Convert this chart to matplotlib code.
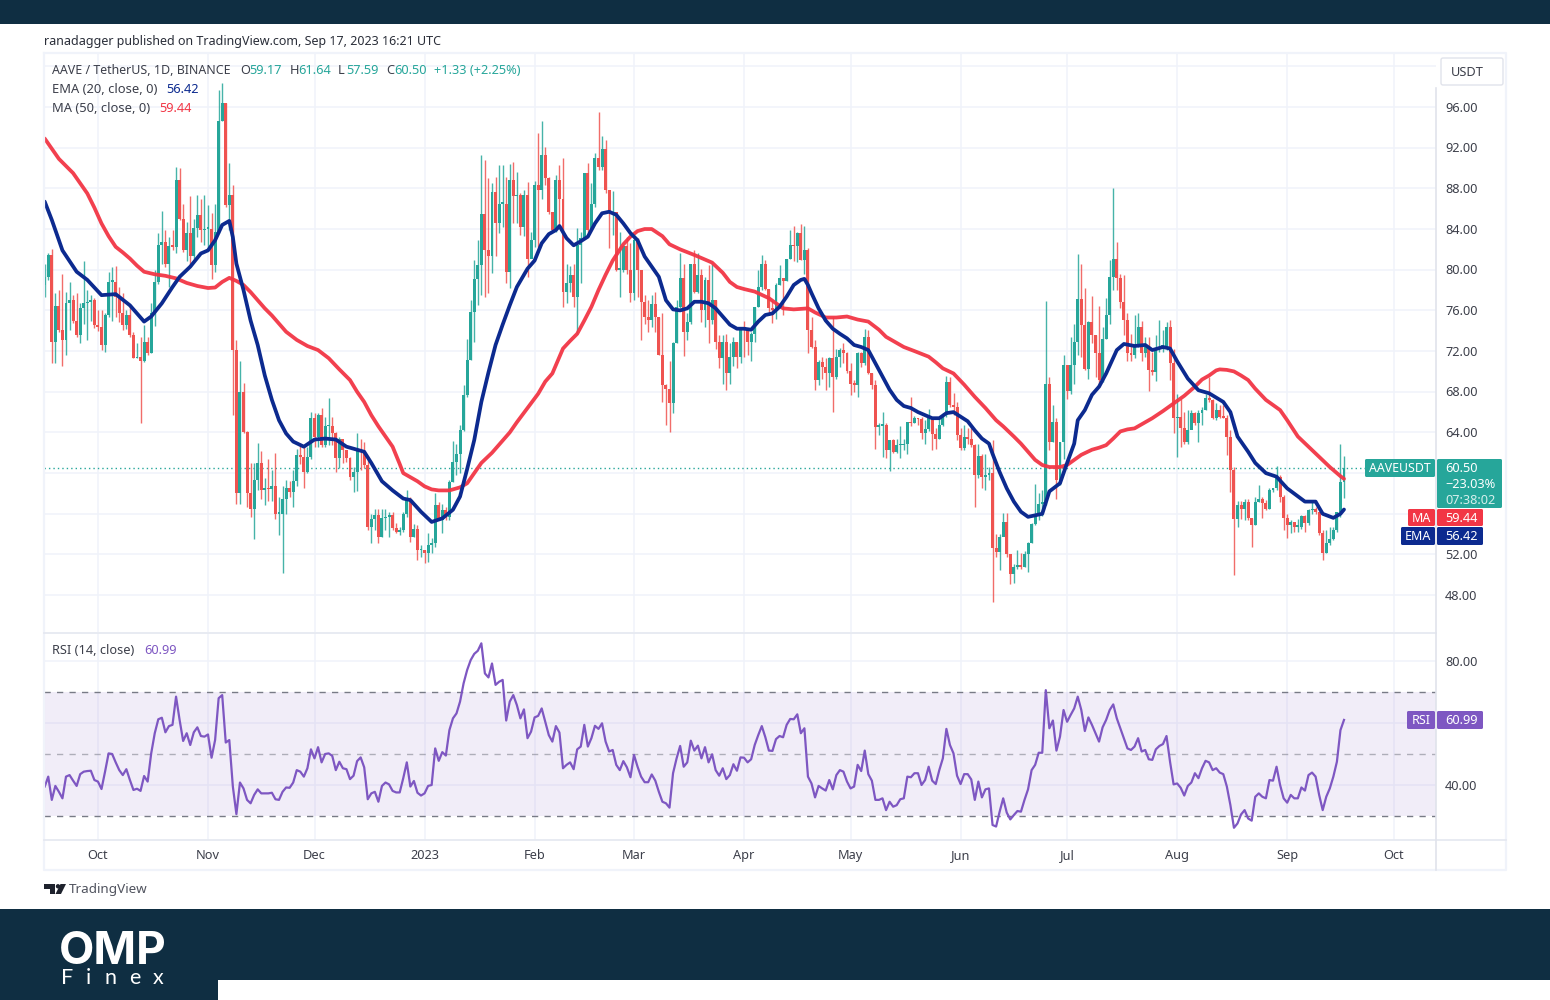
import numpy as np
import pandas as pd
import matplotlib
matplotlib.use('Agg')
import matplotlib.pyplot as plt
from matplotlib.patches import Rectangle, FancyBboxPatch, Polygon, Circle

plt.rcParams['font.family'] = ['Noto Sans', 'DejaVu Sans']

# daily candles, 2022-09-16 to 2023-09-17
start_date = '2022-09-16'
first_open = 78.5
closes = [
    79.3, 81.4, 72.9, 76.4, 74.1, 73.1, 76.7, 77.0, 75.0, 73.6, 76.2, 76.7, 76.85, 77.0, 74.55,
    74.4, 72.6, 75.5, 78.8, 78.8, 77.3, 75.7, 74.55, 75.5, 73.6, 71.3, 71.45, 71.0, 72.9, 71.8,
    75.7, 78.8, 82.4, 82.7, 80.6, 82.3, 82.25, 88.8, 85.0, 81.9, 83.6, 81.3, 84.1, 85.4, 83.9,
    84.05, 84.05, 80.45, 83.7, 94.6, 96.35, 86.35, 87.3, 72.1, 58.0, 68.0, 64.07, 58.0, 56.5, 59.3,
    61.0, 58.3, 58.5, 58.4, 58.7, 56.0, 56.0, 57.5, 58.5, 58.1, 59.2, 61.8, 61.6, 60.1, 61.6,
    65.4, 63.6, 65.7, 62.75, 64.6, 64.6, 63.9, 61.45, 63.4, 62.3, 61.45, 59.65, 60.1, 62.4, 62.1,
    60.8, 54.7, 55.5, 55.9, 53.75, 55.55, 55.7, 55.9, 54.6, 54.2, 54.4, 56.0, 57.5, 53.75, 54.55,
    52.4, 52.4, 52.1, 52.9, 53.1, 56.85, 55.4, 56.4, 55.7, 59.15, 61.05, 61.9, 64.2, 67.7, 71.1,
    75.87, 79.1, 80.45, 85.5, 81.9, 81.3, 87.6, 84.55, 86.5, 86.5, 79.8, 88.8, 87.2, 87.3, 84.2,
    87.35, 81.1, 82.9, 88.3, 87.8, 91.3, 89.0, 85.7, 83.9, 88.8, 87.0, 77.8, 78.7, 79.5, 77.35,
    82.4, 83.1, 89.5, 83.9, 86.5, 90.95, 90.1, 91.9, 87.8, 85.55, 85.7, 80.0, 80.0, 82.3, 80.0,
    77.7, 82.9, 80.0, 76.85, 75.4, 75.05, 76.6, 75.4, 71.6, 68.7, 68.3, 66.85, 72.75, 76.35, 79.15,
    73.9, 74.9, 80.6, 77.85, 79.5, 76.0, 79.0, 75.1, 77.0, 72.9, 71.3, 72.9, 69.8, 71.45, 72.9,
    71.45, 74.4, 74.2, 72.9, 73.7, 76.35, 78.3, 80.6, 78.15, 76.2, 76.0, 78.5, 79.15, 78.9, 81.1,
    82.4, 82.3, 83.6, 81.0, 81.9, 74.1, 72.4, 69.15, 70.95, 70.45, 69.8, 71.3, 69.5, 71.45, 72.1,
    71.8, 70.0, 68.8, 68.7, 71.8, 70.8, 73.4, 69.8, 68.65, 64.55, 64.65, 64.7, 62.3, 63.25, 62.1,
    62.75, 62.75, 62.9, 65.0, 64.9, 65.4, 65.3, 63.9, 64.3, 65.55, 63.85, 63.4, 64.7, 65.7, 69.0,
    66.7, 66.5, 63.75, 62.5, 63.6, 63.4, 62.75, 59.8, 61.7, 59.65, 59.8, 60.0, 52.6, 52.2, 53.75,
    55.15, 52.05, 50.05, 50.75, 51.0, 50.8, 52.0, 53.15, 55.0, 56.0, 57.0, 57.2, 68.75, 63.1, 65.05,
    59.3, 63.1, 70.6, 68.1, 70.6, 72.9, 77.1, 74.56, 70.2, 74.9, 73.6, 71.8, 69.15, 73.2, 75.5,
    79.25, 81.1, 79.15, 76.85, 75.1, 71.8, 71.6, 72.6, 74.4, 71.8, 72.4, 70.1, 69.9, 72.25, 72.4,
    72.5, 74.4, 70.85, 65.4, 65.5, 64.4, 63.1, 64.2, 65.9, 64.9, 65.9, 66.2, 67.35, 67.2, 65.4,
    66.2, 65.5, 65.45, 63.55, 60.3, 55.45, 56.85, 56.5, 57.15, 55.55, 54.9, 57.15, 57.5, 57.1, 56.5,
    58.3, 58.5, 59.6, 57.7, 55.55, 54.9, 55.2, 54.7, 54.7, 55.8, 55.05, 56.35, 56.5, 56.2, 54.1,
    52.1, 53.1, 53.55, 54.4, 56.2, 59.15, 60.5,
]
highs = [
    80.6, 81.6, 82.0, 77.7, 78.0, 79.6, 77.8, 78.8, 77.5, 77.7, 76.7, 80.9, 78.0, 77.5, 77.2,
    76.0, 76.0, 75.7, 79.8, 80.3, 80.4, 78.3, 77.7, 76.0, 76.4, 73.9, 72.8, 73.4, 74.6, 73.4,
    76.7, 80.0, 83.6, 85.8, 83.9, 83.2, 83.9, 90.1, 90.0, 86.5, 84.7, 87.2, 85.0, 87.3, 87.0,
    87.3, 86.4, 85.6, 86.5, 97.7, 98.4, 96.35, 90.5, 88.3, 73.1, 71.0, 68.9, 64.1, 61.0, 61.0,
    63.0, 62.2, 59.5, 61.4, 60.3, 62.0, 57.7, 58.7, 59.3, 59.2, 60.3, 62.4, 62.8, 62.6, 62.6,
    66.0, 65.9, 65.9, 66.4, 65.5, 67.35, 65.5, 64.0, 63.6, 62.8, 62.1, 61.6, 60.6, 63.9, 63.4,
    63.1, 61.4, 56.0, 56.5, 56.5, 56.5, 56.5, 56.2, 56.2, 55.05, 54.7, 56.2, 58.3, 57.7, 55.0,
    54.9, 52.9, 52.4, 54.1, 53.6, 58.0, 57.2, 57.0, 56.7, 59.3, 63.15, 62.9, 64.7, 68.7, 73.15,
    77.0, 81.0, 82.9, 91.3, 90.8, 89.0, 88.5, 89.1, 90.3, 90.3, 89.1, 90.4, 90.6, 89.6, 87.5,
    87.8, 88.6, 83.7, 88.7, 93.4, 94.6, 92.1, 89.1, 85.6, 89.3, 90.3, 91.0, 80.6, 80.4, 80.6,
    84.1, 83.7, 89.5, 90.5, 88.5, 91.45, 95.5, 93.15, 92.8, 87.8, 87.7, 85.7, 83.7, 82.4, 83.25,
    82.6, 83.1, 83.1, 80.0, 77.5, 77.0, 77.5, 77.8, 75.4, 75.7, 68.8, 71.0, 72.9, 77.0, 81.6,
    80.6, 75.7, 80.6, 81.9, 81.6, 80.1, 79.3, 80.5, 80.6, 77.0, 73.6, 73.6, 73.7, 72.75, 73.4,
    72.9, 74.4, 75.0, 74.2, 73.9, 76.35, 80.0, 81.45, 80.95, 78.15, 77.0, 78.65, 80.5, 79.0, 81.1,
    83.9, 84.3, 83.7, 84.5, 84.3, 82.1, 75.4, 73.1, 71.1, 71.4, 71.3, 71.45, 75.4, 72.2, 72.3,
    72.75, 71.9, 70.8, 69.15, 71.9, 71.9, 74.2, 74.1, 69.8, 69.2, 64.9, 66.0, 64.9, 63.3, 63.4,
    63.4, 64.65, 63.4, 65.05, 67.45, 65.6, 65.45, 65.5, 65.2, 66.3, 65.55, 64.4, 65.4, 65.9, 69.55,
    69.5, 67.9, 67.0, 64.4, 64.7, 64.4, 64.4, 62.9, 62.9, 61.9, 61.9, 60.6, 63.25, 54.05, 54.05,
    56.1, 56.1, 52.05, 51.1, 52.4, 52.1, 52.3, 53.25, 55.05, 58.9, 58.0, 58.3, 76.95, 69.5, 66.7,
    65.4, 63.1, 71.6, 70.6, 73.4, 74.7, 81.5, 80.6, 78.2, 75.0, 77.4, 73.6, 76.4, 74.4, 77.2,
    81.0, 88.0, 82.75, 79.6, 79.5, 75.7, 73.7, 75.5, 75.7, 75.0, 73.4, 73.4, 71.9, 73.6, 75.1,
    74.1, 74.9, 75.1, 72.2, 67.8, 67.3, 66.0, 66.2, 66.2, 66.0, 66.2, 66.5, 67.8, 69.5, 67.3,
    66.85, 66.7, 66.7, 65.7, 64.2, 60.6, 57.3, 57.3, 57.5, 57.5, 55.6, 57.7, 58.8, 57.7, 57.35,
    58.5, 58.5, 60.7, 59.8, 57.8, 56.0, 55.4, 55.2, 55.5, 55.85, 55.85, 56.5, 57.4, 56.7, 56.2,
    54.4, 54.4, 54.7, 54.7, 56.2, 62.85, 61.64,
]
lows = [
    77.3, 79.0, 70.8, 70.8, 73.9, 70.5, 71.6, 74.1, 74.8, 73.4, 72.8, 74.7, 73.1, 75.0, 74.3,
    74.0, 72.1, 71.9, 75.4, 75.0, 75.4, 74.9, 74.1, 74.2, 73.4, 71.3, 71.3, 64.9, 70.9, 71.6,
    71.8, 74.5, 78.6, 80.6, 80.3, 78.3, 81.9, 81.6, 84.9, 81.7, 80.9, 80.6, 81.1, 83.2, 82.7,
    82.4, 81.9, 79.1, 79.8, 83.6, 94.6, 86.2, 83.9, 65.7, 56.95, 57.0, 63.9, 56.7, 55.7, 53.5,
    58.3, 57.5, 56.9, 57.3, 57.3, 55.5, 53.9, 50.2, 56.0, 57.7, 56.7, 58.7, 60.9, 58.5, 60.0,
    61.4, 62.6, 62.6, 62.6, 62.6, 62.8, 62.8, 60.1, 60.5, 61.0, 61.1, 59.3, 58.1, 58.2, 60.3,
    60.5, 54.4, 53.15, 54.4, 53.1, 53.7, 54.4, 53.7, 54.4, 54.1, 53.9, 54.2, 55.7, 53.2, 53.7,
    51.45, 51.8, 51.2, 51.3, 52.1, 52.75, 55.4, 54.1, 55.4, 55.4, 59.15, 59.8, 60.0, 64.1, 67.5,
    71.1, 72.9, 76.5, 77.5, 77.3, 77.7, 79.7, 81.3, 83.6, 84.2, 78.7, 78.2, 84.6, 84.6, 83.4,
    83.3, 79.3, 81.3, 82.2, 82.2, 87.0, 88.3, 85.5, 83.7, 83.7, 84.1, 76.3, 76.7, 77.8, 76.3,
    73.7, 78.7, 83.7, 83.6, 83.9, 86.2, 89.8, 89.8, 87.5, 82.1, 83.4, 79.9, 77.3, 79.8, 79.6,
    76.85, 77.0, 77.35, 73.1, 74.7, 73.9, 74.4, 73.9, 71.6, 67.0, 64.7, 64.0, 65.9, 72.75, 76.2,
    71.5, 73.1, 74.7, 77.7, 77.7, 74.9, 74.4, 72.75, 74.7, 72.2, 70.3, 68.8, 68.2, 68.8, 70.5,
    70.3, 70.8, 71.4, 71.6, 71.0, 72.9, 76.35, 78.0, 78.0, 75.7, 74.8, 75.2, 78.5, 75.5, 78.9,
    81.1, 80.9, 80.8, 80.95, 79.6, 71.8, 72.3, 68.2, 68.7, 69.3, 68.2, 68.5, 66.0, 69.3, 70.45,
    70.8, 69.8, 67.7, 68.0, 67.5, 70.45, 70.6, 69.7, 68.3, 62.4, 63.7, 61.6, 61.45, 60.2, 62.0,
    62.0, 61.45, 62.3, 61.9, 64.6, 64.9, 64.7, 63.35, 62.9, 64.1, 62.3, 62.4, 63.4, 64.6, 65.55,
    66.5, 65.7, 63.25, 62.3, 62.3, 62.9, 62.6, 56.7, 59.5, 58.5, 58.3, 59.3, 47.35, 51.8, 50.5,
    53.8, 51.8, 49.05, 49.15, 50.6, 50.6, 50.8, 50.3, 53.1, 54.9, 55.4, 55.8, 56.85, 62.3, 63.1,
    57.5, 58.8, 61.4, 67.3, 67.8, 68.8, 71.6, 71.4, 70.1, 69.3, 72.75, 69.5, 68.8, 69.0, 73.2,
    74.7, 78.0, 78.0, 76.2, 73.6, 71.0, 71.0, 71.3, 72.4, 71.0, 71.4, 68.1, 69.6, 69.1, 71.9,
    71.9, 72.1, 69.15, 63.9, 61.6, 62.6, 62.9, 62.9, 64.4, 64.7, 63.1, 64.7, 66.2, 67.0, 65.3,
    65.2, 65.4, 65.4, 61.8, 58.15, 50.0, 54.7, 55.45, 55.4, 55.4, 52.75, 54.9, 57.15, 55.55, 56.35,
    56.5, 58.15, 58.3, 57.2, 54.4, 53.6, 54.1, 54.2, 54.2, 54.55, 54.2, 54.9, 56.0, 56.0, 53.9,
    51.45, 52.1, 52.9, 53.4, 54.2, 55.7, 57.59,
]

# moving averages, read every few days
ema_days = [0, 2, 5, 9, 12, 16, 20, 24, 28, 30, 33, 36, 38, 41, 44, 46, 48, 50, 52, 53, 54, 56, 58, 60,
            62, 64, 66, 68, 70, 73, 76, 79, 82, 85, 88, 90, 92, 95, 98, 101, 103, 106, 109, 112, 115,
            117, 119, 121, 123, 125, 127, 129, 131, 133, 136, 138, 140, 142, 144, 145, 147, 149, 151,
            153, 155, 157, 159, 161, 163, 165, 167, 169, 171, 173, 175, 177, 179, 181, 183, 185, 187,
            189, 191, 193, 195, 197, 199, 201, 203, 205, 207, 209, 211, 213, 214, 215, 216, 218, 220,
            222, 224, 226, 228, 230, 232, 234, 236, 238, 240, 242, 244, 246, 248, 250, 252, 254, 256,
            258, 260, 262, 264, 266, 267, 269, 271, 273, 275, 277, 279, 281, 283, 286, 288, 290, 291,
            293, 295, 297, 299, 302, 304, 307, 310, 312, 315, 317, 319, 322, 325, 328, 332, 334, 336,
            339, 341, 344, 347, 350, 355, 358, 360, 363, 365, 366]
ema_values = [86.7, 84.9, 81.9, 79.8, 79.0, 77.5, 77.6, 76.5, 74.9, 75.4, 76.7, 78.3, 79.3, 80.3, 81.6, 81.9,
              82.9, 84.4, 84.8, 83.2, 80.6, 78.0, 75.0, 72.6, 69.6, 67.2, 65.2, 63.9, 63.1, 62.6, 63.3,
              63.4, 63.3, 62.6, 62.3, 62.1, 61.0, 59.2, 58.3, 57.5, 57.35, 56.2, 55.2, 55.55, 56.4,
              57.7, 60.4, 63.25, 67.0, 69.9, 72.6, 74.6, 76.5, 78.3, 80.1, 80.9, 82.6, 83.5, 83.9, 84.3,
              83.1, 82.4, 82.8, 83.25, 84.55, 85.55, 85.7, 85.4, 84.55, 83.6, 82.9, 81.3, 80.3, 79.3,
              77.0, 76.1, 76.0, 76.2, 76.85, 76.85, 76.7, 76.2, 75.4, 74.6, 74.2, 74.2, 74.1, 74.9, 75.55,
              75.7, 76.35, 77.35, 78.5, 79.0, 79.1, 78.5, 77.7, 76.2, 75.0, 74.2, 73.7, 73.25, 72.6, 72.4,
              72.1, 70.8, 69.5, 68.2, 67.2, 66.6, 66.4, 66.0, 65.7, 65.4, 65.4, 65.9, 66.0, 65.55, 65.1,
              64.2, 63.4, 62.9, 61.9, 60.1, 58.5, 57.2, 56.2, 55.7, 55.85, 56.0, 58.2, 59.0, 61.0, 62.9,
              65.2, 66.2, 67.7, 68.5, 69.8, 72.1, 72.7, 72.5, 72.6, 72.1, 72.4, 72.25, 71.0, 69.3, 68.15,
              67.85, 67.0, 66.0, 63.6, 62.1, 61.0, 60.0, 59.65, 58.5, 57.2, 57.2, 56.0, 55.6, 56.0, 56.42]
ma_days = [0, 2, 4, 6, 8, 10, 12, 14, 16, 18, 20, 22, 24, 26, 28, 31, 34, 37, 40, 43, 46, 48, 50, 52, 54, 56, 58, 60,
           62, 64, 66, 68, 71, 74, 77, 80, 83, 86, 88, 90, 92, 94, 96, 98, 100, 101, 103, 105, 107, 109, 111, 114,
           117, 119, 121, 123, 126, 128, 131, 133, 136, 139, 141, 143, 146, 148, 150, 152, 154, 156, 158, 160, 163,
           165, 167, 169, 171, 174, 176, 179, 183, 186, 188, 191, 193, 195, 197, 200, 204, 206, 208, 211, 215, 217,
           220, 223, 226, 229, 232, 235, 237, 240, 242, 245, 249, 251, 253, 256, 259, 262, 265, 268, 270, 273, 275,
           277, 279, 281, 283, 286, 288, 290, 292, 295, 297, 299, 301, 303, 305, 307, 310, 312, 315, 318, 321, 324,
           326, 328, 330, 331, 333, 335, 337, 339, 341, 344, 346, 348, 350, 353, 356, 359, 362, 365, 366]
ma_values = [92.9, 91.9, 90.9, 90.2, 89.5, 88.5, 87.5, 86.1, 84.55, 83.3, 82.25, 81.7, 81.1, 80.4, 79.8, 79.55, 79.4,
             79.15, 78.7, 78.4, 78.2, 78.25, 78.8, 79.2, 78.9, 78.5, 77.8, 77.0, 76.2, 75.5, 74.7, 73.9, 73.1, 72.5,
             72.1, 71.3, 70.2, 69.15, 68.0, 67.0, 65.7, 64.6, 63.6, 62.6, 60.9, 60.0, 59.6, 59.2, 58.7, 58.4, 58.3,
             58.3, 58.6, 59.0, 60.0, 61.0, 62.0, 62.8, 64.0, 65.0, 66.4, 67.8, 69.0, 69.8, 72.25, 73.0, 73.7, 75.0,
             76.35, 78.0, 79.5, 80.9, 82.5, 83.25, 83.8, 84.0, 84.0, 83.3, 82.5, 82.0, 81.45, 81.0, 80.7, 79.7, 78.8,
             78.3, 78.1, 77.85, 77.2, 76.7, 76.2, 76.1, 76.2, 75.8, 75.3, 75.3, 75.4, 75.1, 74.9, 74.1, 73.4, 72.8,
             72.4, 72.0, 71.45, 70.9, 70.3, 69.8, 68.7, 67.5, 66.4, 65.2, 64.6, 63.6, 62.9, 62.1, 61.3, 60.8, 60.6,
             60.6, 60.8, 61.3, 61.8, 62.3, 62.5, 62.75, 63.4, 64.1, 64.3, 64.4, 65.0, 65.4, 66.1, 66.85, 67.6, 68.5,
             69.2, 69.6, 70.1, 70.2, 70.15, 70.0, 69.6, 69.15, 68.3, 67.2, 66.7, 66.2, 65.2, 63.6, 62.6, 61.6, 60.6,
             59.7, 59.44]

rsi_values = [
    39.5, 42.7, 35.2, 39.7, 37.8, 35.7, 42.7, 43.2, 41.4, 39.7, 43.5, 44.3, 44.5, 44.6, 41.6,
    41.1, 38.7, 44.3, 50.2, 50.0, 47.3, 44.8, 43.2, 45.1, 41.6, 38.4, 38.8, 38.1, 42.9, 41.1,
    50.2, 56.7, 61.2, 61.7, 57.0, 59.0, 59.4, 68.5, 61.0, 54.2, 56.7, 52.9, 57.0, 58.6, 55.8,
    55.6, 56.3, 48.8, 54.5, 68.0, 69.0, 53.7, 54.5, 39.5, 30.6, 40.8, 38.9, 35.2, 34.1, 36.8,
    38.6, 37.3, 37.3, 37.3, 37.5, 35.4, 35.2, 37.8, 39.2, 39.1, 40.8, 44.8, 44.3, 42.7, 45.4,
    51.5, 48.6, 52.2, 47.3, 50.0, 50.2, 49.4, 44.8, 47.5, 45.4, 45.1, 41.9, 43.0, 47.7, 48.9,
    45.7, 35.4, 37.3, 37.8, 34.6, 39.7, 40.8, 40.2, 38.1, 37.6, 37.6, 42.2, 47.3, 39.5, 41.3,
    37.5, 36.6, 37.3, 39.7, 40.0, 51.8, 47.8, 50.6, 49.5, 57.7, 61.5, 63.1, 66.9, 72.8, 77.1,
    80.3, 82.3, 83.3, 85.7, 76.0, 74.7, 79.2, 72.3, 73.3, 73.9, 60.8, 66.9, 69.0, 65.8, 61.5,
    64.4, 55.1, 57.2, 61.8, 62.3, 64.7, 60.4, 56.1, 54.0, 59.0, 56.9, 45.4, 46.5, 47.3, 45.1,
    51.5, 52.4, 59.4, 52.4, 55.1, 59.1, 58.1, 59.9, 54.0, 50.8, 51.3, 46.5, 44.8, 47.7, 45.7,
    42.5, 49.7, 45.9, 42.7, 40.9, 40.9, 43.4, 41.4, 37.8, 34.6, 34.1, 32.7, 43.8, 48.6, 52.6,
    45.9, 47.3, 54.3, 51.1, 52.7, 48.6, 52.2, 47.3, 49.9, 44.8, 43.0, 45.4, 41.9, 43.2, 46.7,
    44.6, 48.9, 48.8, 47.3, 48.3, 52.9, 56.1, 59.0, 55.4, 51.1, 51.0, 54.8, 55.8, 55.4, 59.4,
    61.3, 61.2, 62.8, 56.7, 58.3, 42.7, 40.5, 36.0, 39.7, 38.9, 38.2, 41.6, 38.6, 43.2, 44.8,
    44.3, 41.1, 38.9, 39.5, 46.5, 44.5, 51.1, 43.5, 41.4, 35.2, 35.2, 35.7, 31.9, 34.6, 33.0,
    33.5, 35.4, 35.7, 42.7, 42.5, 43.8, 43.8, 40.0, 41.6, 45.9, 41.4, 40.3, 44.8, 48.6, 58.1,
    52.9, 50.2, 43.0, 40.3, 43.5, 43.5, 41.8, 35.2, 41.1, 36.0, 38.6, 38.9, 27.1, 26.6, 31.4,
    35.7, 31.1, 28.9, 30.3, 31.6, 31.4, 35.2, 38.6, 44.8, 46.5, 50.4, 50.4, 70.6, 58.3, 60.8,
    51.1, 55.6, 64.2, 60.4, 62.6, 64.7, 68.5, 64.2, 57.4, 61.8, 59.4, 56.7, 54.0, 58.6, 61.0,
    64.2, 66.0, 61.5, 58.3, 55.1, 51.8, 51.3, 52.4, 55.1, 50.8, 51.3, 48.3, 48.1, 51.5, 52.6,
    53.2, 55.8, 47.5, 40.2, 40.5, 39.1, 36.6, 39.7, 40.8, 43.8, 42.2, 45.4, 47.8, 47.3, 44.8,
    45.4, 44.0, 43.5, 39.5, 33.5, 26.2, 27.6, 30.5, 31.9, 29.2, 28.5, 36.2, 37.3, 36.2, 35.7,
    41.6, 41.4, 45.9, 40.0, 35.7, 34.3, 36.8, 35.7, 35.7, 39.2, 38.2, 43.2, 44.0, 42.7, 36.8,
    31.9, 36.2, 38.9, 42.7, 47.5, 57.7, 60.99,
]

price_ticks = [96, 92, 88, 84, 80, 76, 72, 68, 64, 60, 56, 52, 48]
price_labels = ['96.00', '92.00', '88.00', '84.00', '80.00', '76.00', '72.00', '68.00', '64.00', '52.00', '48.00']
month_dates = ['2022-10-01', '2022-11-01', '2022-12-01', '2023-01-01', '2023-02-01', '2023-03-01',
               '2023-04-01', '2023-05-01', '2023-06-01', '2023-07-01', '2023-08-01', '2023-09-01', '2023-10-01']
month_labels = ['Oct', 'Nov', 'Dec', '2023', 'Feb', 'Mar', 'Apr', 'May', 'Jun', 'Jul', 'Aug', 'Sep', 'Oct']

print(len(closes), len(highs), len(lows), len(rsi_values), len(ema_days), len(ema_values), len(ma_days), len(ma_values))

GREEN = '#26a69a'
RED = '#ef5350'
MA_RED = '#f23645'
BLUE = '#0c2a8f'
PURPLE = '#7e57c2'
NAVY = '#0f2e42'
GRID = '#f0f3fa'
TXT = '#3c3f4a'

W, H = 1550, 1000
fig = plt.figure(figsize=(W / 100, H / 100), dpi=100, facecolor='white')


def add_ax(left, top, right, bottom):
    return fig.add_axes([left / W, 1 - bottom / H, (right - left) / W, (bottom - top) / H])


ax = add_ax(44, 54, 1436, 632)
ax_rsi = add_ax(44, 633, 1436, 840)

days = np.arange(len(closes))
closes = np.array(closes)
highs = np.array(highs)
lows = np.array(lows)
opens = np.r_[first_open, closes[:-1]]
month_pos = [(pd.Timestamp(d) - pd.Timestamp(start_date)).days for d in month_dates]

# candles
colors = [GREEN if c >= o else RED for o, c in zip(opens, closes)]
ax.vlines(days, lows, highs, colors=colors, lw=1.0, alpha=0.85, zorder=2)
body_h = np.maximum(np.abs(closes - opens), 0.15)
ax.bar(days, body_h, bottom=np.minimum(opens, closes), width=0.84, color=colors, lw=0, zorder=3)
ax.plot(ma_days, ma_values, color=MA_RED, lw=2.7, alpha=0.95, solid_joinstyle='round', solid_capstyle='round', zorder=4)
ax.plot(ema_days, ema_values, color=BLUE, lw=2.7, solid_joinstyle='round', solid_capstyle='round', zorder=5)
ax.axhline(closes[-1], xmax=(1366 - 44) / 1392, color=GREEN, lw=1, ls=(0, (1, 2.2)), zorder=1)

xlim = ((44 - 44.7) / 3.55, (1436 - 44.7) / 3.55)
ax.set_xlim(xlim)
ax.set_ylim(96 - (632 - 107) / 10.17, 96 + (107 - 54) / 10.17)
ax.set_yticks(price_ticks + [100])
ax.set_xticks(month_pos)
ax_rsi.set_xlim(xlim)
ax_rsi.set_ylim(80 - (840 - 661) / 3.1, 80 + (661 - 633) / 3.1)
ax_rsi.set_yticks([80, 60, 40])
ax_rsi.set_xticks(month_pos)

for a in (ax, ax_rsi):
    a.grid(True, color=GRID, lw=1.1, zorder=0)
    a.set_axisbelow(True)
    a.tick_params(length=0, labelleft=False, labelbottom=False)
    for s in a.spines.values():
        s.set_visible(False)

# rsi pane
ax_rsi.axhspan(30, 70, color=PURPLE, alpha=0.1, lw=0, zorder=1)
ax_rsi.axhline(70, color='#787b86', lw=1, ls=(0, (4.5, 4.5)), zorder=2)
ax_rsi.axhline(50, color='#787b86', lw=1, ls=(0, (4.5, 4.5)), alpha=0.55, zorder=2)
ax_rsi.axhline(30, color='#787b86', lw=1, ls=(0, (4.5, 4.5)), zorder=2)
ax_rsi.plot(days, rsi_values, color=PURPLE, lw=1.6, solid_joinstyle='round', zorder=3)

# overlay in pixel coordinates for the frame, tags and texts
ov = fig.add_axes([0, 0, 1, 1], facecolor='none')
ov.set_xlim(0, W)
ov.set_ylim(H, 0)
ov.axis('off')


def rect(x0, y0, x1, y1, color, z=2):
    ov.add_patch(Rectangle((x0, y0), x1 - x0, y1 - y0, fc=color, ec='none', zorder=z))


def tag(x0, y0, x1, y1, color):
    ov.add_patch(FancyBboxPatch((x0 + 1.5, y0 + 1.5), x1 - x0 - 3, y1 - y0 - 3, boxstyle='round,pad=1.5',
                                fc=color, ec='none', zorder=3))


def label(x, y, s, color=TXT, size=9, ha='left', **kw):
    ov.text(x, y + 1, s, color=color, fontsize=size, ha=ha, va='center', zorder=5, **kw)


rect(0, 0, W, 24, NAVY)
rect(0, 909, W, H, NAVY)
rect(218, 980, W, H, 'white')

# frame
ov.plot([44, 1506, 1506, 44, 44], [53, 53, 870, 870, 53], color=GRID, lw=1.6, zorder=1)
ov.plot([44, 1436], [632.5, 632.5], color='#e6e9f1', lw=1.3, zorder=1)
ov.plot([44, 1506], [840, 840], color='#e6e9f1', lw=1.3, zorder=1)
ov.plot([1436, 1436], [88, 870], color='#e0e3eb', lw=1.2, zorder=1)

label(44, 40, 'ranadagger published on TradingView.com, Sep 17, 2023 16:21 UTC', color='#2a2e39', size=9.0)

# header legend
label(52, 69.5, 'AAVE / TetherUS, 1D, BINANCE', size=8.95)
for x, s in zip([240, 290, 338, 386], ['O', 'H', 'L', 'C']):
    label(x, 69.5, s, size=9.2)
for x, s in zip([249, 298, 346, 394, 434], ['59.17', '61.64', '57.59', '60.50', '+1.33 (+2.25%)']):
    label(x, 69.5, s, color=GREEN, size=9.2)
label(52, 88.5, 'EMA (20, close, 0)', size=9.3)
label(166, 88.5, '56.42', color=BLUE, size=9.2)
label(52, 107.5, 'MA (50, close, 0)', size=9.3)
label(159, 107.5, '59.44', color=MA_RED, size=9.2)
label(52, 649.5, 'RSI (14, close)', size=9.2)
label(144, 649.5, '60.99', color=PURPLE, size=9.2)

# price scale
ov.add_patch(FancyBboxPatch((1443, 60), 58, 23, boxstyle='round,pad=2', fc='white', ec='#e0e3eb', lw=1, zorder=3))
label(1451, 71.5, 'USDT', size=9.2)
for s in price_labels:
    label(1445, 107 + (96 - float(s)) * 10.17, s, size=9.2)
label(1445, 661, '80.00', size=9.2)
label(1445, 785, '40.00', size=9.2)

# last value tags
tag(1365, 459, 1435, 477, GREEN)
tag(1437, 459, 1502, 508, GREEN)
label(1400, 468, 'AAVEUSDT', color='white', size=8.9, ha='center')
label(1445, 468, '60.50', color='white', size=9.2)
label(1445, 483, '\u221223.03%', color='white', size=9.2)
label(1445, 499, '07:38:02', color='#d5efec', size=9.2)
tag(1408, 509, 1435, 526, MA_RED)
tag(1437, 509, 1483, 526, MA_RED)
label(1421.5, 517.5, 'MA', color='white', size=9, ha='center')
label(1445, 517.5, '59.44', color='white', size=9.2)
tag(1401, 527, 1435, 545, BLUE)
tag(1437, 527, 1483, 545, BLUE)
label(1418, 536, 'EMA', color='white', size=9, ha='center')
label(1445, 536, '56.42', color='white', size=9.2)
tag(1407, 711, 1435, 729, PURPLE)
tag(1437, 711, 1483, 729, PURPLE)
label(1421, 720, 'RSI', color='white', size=9, ha='center')
label(1445, 720, '60.99', color='white', size=9.2)

# time axis
for pos, s in zip(month_pos, month_labels):
    label(44.7 + pos * 3.55, 854.5, s, size=9.2, ha='center', fontweight='bold' if s == '2023' else 'normal')

# TradingView mark
ov.add_patch(Polygon([(44, 884), (55, 884), (55, 894), (49.5, 894), (49.5, 888.8), (44, 888.8)], fc='#1e222d', ec='none', zorder=5))
ov.add_patch(Circle((58, 886.3), 2.2, fc='#1e222d', ec='none', zorder=5))
ov.add_patch(Polygon([(60.5, 884), (66, 884), (61, 894), (55.5, 894)], fc='#1e222d', ec='none', zorder=5))
label(69, 889, 'TradingView', color='#50535e', size=9.7)

# OMP Finex logo
label(113, 951, 'OMP', color='white', size=33, ha='center', family='Inter', fontweight='bold')
for x, s in zip([67.5, 88, 110, 135, 158], ['F', 'i', 'n', 'e', 'x']):
    label(x, 977, s, color='white', size=15.5, ha='center', family='Lato', fontweight='normal')

fig.savefig('out.png', dpi=100)
